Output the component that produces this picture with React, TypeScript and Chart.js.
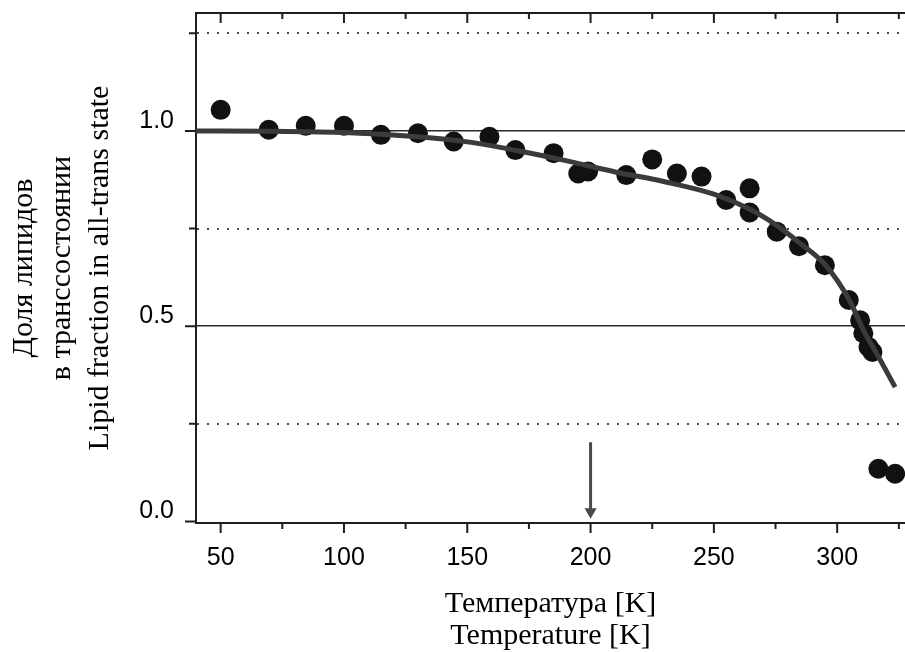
import React, { useEffect, useRef } from 'react';
import { Chart, registerables } from 'chart.js';

Chart.register(...registerables);

// Measured fraction of lipids in the all-trans state at each temperature (K)
const temperatures = [50, 69.5, 84.5, 100, 115, 130, 144.5, 159, 169.5, 185, 195, 199, 214.5, 225, 235, 245, 255, 264.5, 264.5, 275.5, 284.5, 295, 304.7, 309.3, 310.6, 312.7, 314.3, 316.7, 323.5];
const lipidFraction = [1.054, 1.003, 1.013, 1.013, 0.99, 0.994, 0.973, 0.985, 0.951, 0.943, 0.891, 0.896, 0.887, 0.927, 0.891, 0.883, 0.823, 0.853, 0.791, 0.742, 0.705, 0.656, 0.567, 0.515, 0.482, 0.447, 0.434, 0.135, 0.122];

// Fitted curve through the data
const fitTemperatures = [40, 70, 100, 130, 150, 170, 190, 210, 230, 250, 265, 275, 285, 295, 305, 311, 316, 323.5];
const fitFraction = [1.0, 0.999, 0.996, 0.985, 0.972, 0.95, 0.924, 0.895, 0.87, 0.838, 0.798, 0.76, 0.712, 0.658, 0.566, 0.485, 0.43, 0.344];

// Arrow marking 200 K
const markerTemperature = 200;
const markerTop = 0.203;
const markerTip = 0.025;

// Axes
const xMin = 40;
const xMax = 327.5;
const yMin = -0.004;
const yMax = 1.302;
const xTickValues = [50, 75, 100, 125, 150, 175, 200, 225, 250, 275, 300, 325];
const xLabelValues = [50, 100, 150, 200, 250, 300];
const yTickValues = [0, 0.25, 0.5, 0.75, 1.0, 1.25];
const yLabelValues = [0, 0.5, 1.0];

const xTitle = ['Температура [K]', 'Temperature [K]'];
const yTitle = ['Доля липидов', 'в транссостоянии', 'Lipid fraction in all-trans state'];

const isMajorY = (v: number) => Math.abs(v / 0.5 - Math.round(v / 0.5)) < 1e-6;

const noEdgePadding = (scale: any) => {
  scale.paddingTop = 0;
  scale.paddingBottom = 0;
  scale.paddingLeft = 0;
  scale.paddingRight = 0;
};

// Frame line on top plus inward/outward tick marks of unequal length
const frameTicks = {
  id: 'frameTicks',
  afterDraw(chart: any) {
    const { ctx, chartArea, scales } = chart;
    const xs = scales.x;
    const ys = scales.y;
    ctx.save();
    ctx.strokeStyle = '#1e1e1e';
    ctx.lineWidth = 2;
    ctx.beginPath();
    ctx.moveTo(chartArea.left, chartArea.top);
    ctx.lineTo(chartArea.right, chartArea.top);
    ctx.stroke();
    ctx.beginPath();
    xs.ticks.forEach((t: any) => {
      const px = xs.getPixelForValue(t.value);
      const len = t.value % 50 === 0 ? 10 : 6;
      ctx.moveTo(px, chartArea.bottom);
      ctx.lineTo(px, chartArea.bottom + len);
      ctx.moveTo(px, chartArea.top);
      ctx.lineTo(px, chartArea.top + len);
    });
    ys.ticks.forEach((t: any) => {
      const py = ys.getPixelForValue(t.value);
      const len = isMajorY(t.value) ? 11 : 7;
      ctx.moveTo(chartArea.left, py);
      ctx.lineTo(chartArea.left - len, py);
    });
    ctx.stroke();
    ctx.restore();
  },
};

export default function App() {
  const canvasRef = useRef<HTMLCanvasElement>(null);

  useEffect(() => {
    const canvas = canvasRef.current;
    if (!canvas) return;

    const points = temperatures.map((t, i) => ({ x: t, y: lipidFraction[i] }));
    const fit = fitTemperatures.map((t, i) => ({ x: t, y: fitFraction[i] }));
    const marker = [
      { x: markerTemperature, y: markerTop },
      { x: markerTemperature, y: markerTip },
    ];

    const chart = new Chart(canvas, {
      type: 'scatter',
      data: {
        datasets: [
          {
            label: 'fit',
            data: fit,
            showLine: true,
            borderColor: '#3b3b3b',
            borderWidth: 5,
            pointRadius: 0,
            cubicInterpolationMode: 'monotone',
            order: 0,
          } as any,
          {
            label: 'data',
            data: points,
            backgroundColor: '#111111',
            borderWidth: 0,
            pointRadius: 10,
            clip: false,
            order: 1,
          } as any,
          {
            label: '200 K',
            data: marker,
            showLine: true,
            borderColor: '#4a4a4a',
            borderWidth: 3,
            backgroundColor: '#4a4a4a',
            pointBorderColor: '#4a4a4a',
            pointStyle: 'triangle',
            pointRadius: [0, 4],
            rotation: [0, 180],
            order: 2,
          } as any,
        ],
      },
      options: {
        animation: false,
        responsive: true,
        maintainAspectRatio: false,
        layout: { autoPadding: false, padding: { top: 13, right: 0, bottom: 0, left: 0 } },
        plugins: {
          legend: { display: false },
          tooltip: { enabled: false },
        },
        scales: {
          x: {
            type: 'linear',
            min: xMin,
            max: xMax,
            afterBuildTicks: (scale: any) => {
              scale.ticks = xTickValues.map((v) => ({ value: v }));
            },
            afterFit: (scale: any) => {
              scale.height = 129;
              noEdgePadding(scale);
            },
            grid: { display: false, drawTicks: false },
            border: { display: true, color: '#1e1e1e', width: 2 },
            ticks: {
              autoSkip: false,
              maxRotation: 0,
              padding: 20,
              color: '#000',
              font: { family: 'Liberation Sans', size: 25 },
              callback: (v: any) => (xLabelValues.includes(Number(v)) ? String(v) : ''),
            },
            title: {
              display: true,
              text: xTitle,
              color: '#000',
              font: { family: 'Liberation Serif', size: 30, lineHeight: 1.07 },
              padding: { top: 0, bottom: 0 },
            },
          },
          y: {
            type: 'linear',
            min: yMin,
            max: yMax,
            afterBuildTicks: (scale: any) => {
              scale.ticks = yTickValues.map((v) => ({ value: v }));
            },
            afterFit: (scale: any) => {
              scale.width = 196;
              noEdgePadding(scale);
            },
            grid: {
              display: true,
              drawTicks: false,
              color: (c: any) => {
                const v = c.tick ? c.tick.value : 0;
                if (v === 0) return 'rgba(0,0,0,0)';
                return isMajorY(v) ? '#2a2a2a' : '#4a4a4a';
              },
              lineWidth: (c: any) => {
                const v = c.tick ? c.tick.value : 0;
                return isMajorY(v) ? 1.6 : 2;
              },
            },
            border: {
              display: true,
              color: '#1e1e1e',
              width: 2,
              dash: (c: any) => (c.tick && !isMajorY(c.tick.value) ? [2, 8] : []),
            },
            ticks: {
              padding: 22,
              labelOffset: -10,
              color: '#000',
              font: { family: 'Liberation Sans', size: 25 },
              callback: (v: any) => (yLabelValues.includes(Number(v)) ? Number(v).toFixed(1) : ''),
            },
            title: {
              display: true,
              text: yTitle,
              color: '#000',
              font: { family: 'Liberation Serif', size: 30, lineHeight: 1.27 },
              padding: { top: 5, bottom: 0 },
            },
          },
        },
      } as any,
      plugins: [frameTicks],
    });

    return () => chart.destroy();
  }, []);

  return (
    <div style={{ position: 'fixed', left: 0, top: 0, width: 905, height: 652, background: '#fff' }}>
      <canvas ref={canvasRef} style={{ display: 'block' }} />
    </div>
  );
}
